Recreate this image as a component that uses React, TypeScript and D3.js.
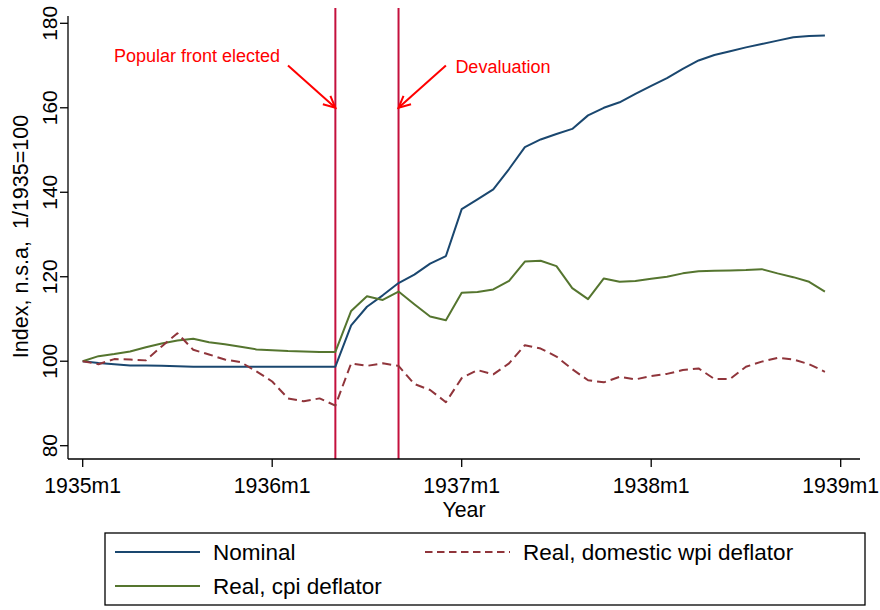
import React from "react";
import * as d3 from "d3";

// Monthly index, 1935m1 .. 1938m12 (1/1935 = 100)
const nominal: number[] = [
  100, 99.6, 99.3, 99.0, 99.0, 98.9, 98.8, 98.7, 98.7, 98.7, 98.7, 98.7,
  98.7, 98.7, 98.7, 98.7, 98.7, 108.5, 112.9, 115.6, 118.5, 120.5, 123.1, 124.9,
  136.0, 138.3, 140.7, 145.5, 150.7, 152.5, 153.8, 155.0, 158.2, 160.0, 161.3, 163.3,
  165.2, 167.0, 169.2, 171.2, 172.5, 173.4, 174.3, 175.1, 175.9, 176.7, 177.0, 177.1,
];

const realCpi: number[] = [
  100, 101.2, 101.7, 102.3, 103.3, 104.2, 104.9, 105.3, 104.5, 104.0, 103.4, 102.8,
  102.6, 102.4, 102.3, 102.2, 102.2, 111.9, 115.4, 114.5, 116.5, 113.5, 110.6, 109.7,
  116.2, 116.4, 117.0, 119.0, 123.6, 123.8, 122.5, 117.3, 114.7, 119.6, 118.8, 119.0,
  119.5, 120.0, 120.8, 121.3, 121.4, 121.5, 121.6, 121.8, 120.8, 119.9, 118.8, 116.5,
];

const realWpi: number[] = [
  100, 99.3, 100.5, 100.4, 100.2, 103.5, 106.6, 102.7, 101.6, 100.4, 99.8, 97.6,
  95.2, 91.2, 90.5, 91.2, 89.5, 99.5, 98.9, 99.5, 98.9, 94.6, 93.2, 90.3,
  96.0, 97.9, 96.9, 99.5, 103.8, 103.0, 101.1, 98.1, 95.5, 95.0, 96.3, 95.7,
  96.5, 97.0, 97.9, 98.3, 95.8, 95.8, 98.7, 99.9, 100.8, 100.4, 99.3, 97.5,
];

const xTickMonths: number[] = [0, 12, 24, 36, 48];
const xTickLabels: string[] = ["1935m1", "1936m1", "1937m1", "1938m1", "1939m1"];
const yTicks: number[] = [80, 100, 120, 140, 160, 180];

// Event markers (month index) with annotation arrows
const eventMonths: number[] = [16, 20];
const eventLabels: string[] = ["Popular front elected", "Devaluation"];

const FONT = "'Liberation Sans', Arial, Helvetica, sans-serif";
const NAVY = "#1a476f";
const MAROON = "#90353b";
const GREEN = "#55752f";
const EVENT = "#c4103d";
const ANNOT = "#ff0000";

export default function App() {
  const W = 880;
  const H = 610;

  const x = d3.scaleLinear().domain([0, 48]).range([82.7, 840.7]);
  const y = d3.scaleLinear().domain([80, 180]).range([445.7, 23.3]);

  const axisX = 68;
  const axisY = 459;

  const line = d3
    .line<number>()
    .x((_, i) => x(i))
    .y((v) => y(v));

  const series = [
    { name: "Nominal", values: nominal, color: NAVY, dash: undefined as string | undefined },
    { name: "Real, cpi deflator", values: realCpi, color: GREEN, dash: undefined },
    { name: "Real, domestic wpi deflator", values: realWpi, color: MAROON, dash: "9,5" },
  ];

  // arrow from (tail month, tail value) to (event month, 160)
  const arrows = [
    { from: [13, 170], to: [eventMonths[0], 160] },
    { from: [23, 170], to: [eventMonths[1], 160] },
  ];

  const arrowHead = (x1: number, y1: number, x2: number, y2: number) => {
    const ang = Math.atan2(y2 - y1, x2 - x1);
    const len = 13;
    const spread = 0.45;
    const a1 = ang + Math.PI - spread;
    const a2 = ang + Math.PI + spread;
    return `M${x2 + len * Math.cos(a1)},${y2 + len * Math.sin(a1)}L${x2},${y2}L${x2 + len * Math.cos(a2)},${y2 + len * Math.sin(a2)}`;
  };

  return (
    <svg width={W} height={H} viewBox={`0 0 ${W} ${H}`} style={{ display: "block", position: "absolute", left: 0, top: 0, background: "#fff" }} fontFamily={FONT}>
      <rect x={0} y={0} width={W} height={H} fill="#fff" />

      {/* event lines */}
      {eventMonths.map((m) => (
        <line key={m} x1={x(m)} x2={x(m)} y1={8} y2={axisY} stroke={EVENT} strokeWidth={2} />
      ))}

      {/* series */}
      {series.map((s) => (
        <path
          key={s.name}
          d={line(s.values) || ""}
          fill="none"
          stroke={s.color}
          strokeWidth={2}
          strokeDasharray={s.dash}
          strokeLinejoin="round"
        />
      ))}

      {/* annotations */}
      {arrows.map((a, i) => {
        const x1 = x(a.from[0]);
        const y1 = y(a.from[1]);
        const x2 = x(a.to[0]);
        const y2 = y(a.to[1]);
        return (
          <g key={i} stroke={ANNOT} strokeWidth={2} fill="none">
            <line x1={x1} y1={y1} x2={x2} y2={y2} />
            <path d={arrowHead(x1, y1, x2, y2)} />
          </g>
        );
      })}
      <text x={x(12.5)} y={y(172.4) + 6.5} fontSize={18} fill={ANNOT} textAnchor="end">
        {eventLabels[0]}
      </text>
      <text x={x(23.6)} y={y(169.8) + 6.5} fontSize={18} fill={ANNOT} textAnchor="start">
        {eventLabels[1]}
      </text>

      {/* y axis */}
      <line x1={axisX} x2={axisX} y1={16} y2={axisY} stroke="#000" strokeWidth={1.3} />
      {yTicks.map((t) => (
        <g key={t}>
          <line x1={axisX - 8} x2={axisX} y1={y(t)} y2={y(t)} stroke="#000" strokeWidth={1.3} />
          <text
            transform={`translate(${axisX - 11},${y(t)}) rotate(-90)`}
            textAnchor="middle"
            fontSize={21}
            fill="#000"
          >
            {t}
          </text>
        </g>
      ))}
      <text
        transform={`translate(28,${y(130) + 2}) rotate(-90)`}
        textAnchor="middle"
        fontSize={21.5}
        fill="#000"
        style={{ whiteSpace: "pre" }}
      >
        {"Index, n.s.a,  1/1935=100"}
      </text>

      {/* x axis */}
      <line x1={axisX} x2={860} y1={axisY} y2={axisY} stroke="#000" strokeWidth={1.3} />
      {xTickMonths.map((m, i) => (
        <g key={m}>
          <line x1={x(m)} x2={x(m)} y1={axisY} y2={axisY + 8} stroke="#000" strokeWidth={1.3} />
          <text x={x(m)} y={axisY + 34} textAnchor="middle" fontSize={21.3} fill="#000">
            {xTickLabels[i]}
          </text>
        </g>
      ))}
      <text x={(axisX + 860) / 2} y={axisY + 58} textAnchor="middle" fontSize={21.3} fill="#000">
        Year
      </text>

      {/* legend */}
      <rect x={105} y={533} width={760} height={72} fill="#fff" stroke="#000" strokeWidth={1.3} />
      <line x1={115} x2={200} y1={552} y2={552} stroke={NAVY} strokeWidth={2} />
      <text x={213} y={560} fontSize={22.5} fill="#000">{series[0].name}</text>
      <line x1={425} x2={510} y1={552} y2={552} stroke={MAROON} strokeWidth={2} strokeDasharray="7.5,4.5" />
      <text x={523} y={560} fontSize={22.5} fill="#000">{series[2].name}</text>
      <line x1={115} x2={200} y1={586} y2={586} stroke={GREEN} strokeWidth={2} />
      <text x={213} y={594} fontSize={22.5} fill="#000">{series[1].name}</text>
    </svg>
  );
}
